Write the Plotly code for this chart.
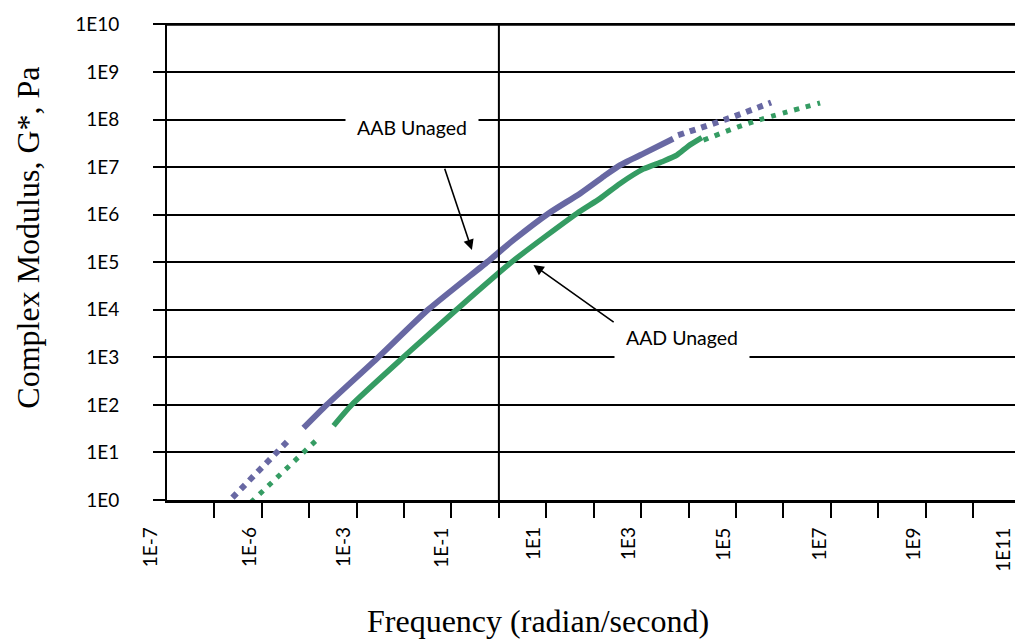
import plotly.graph_objects as go

# ---- data (frequency in rad/s, complex modulus G* in Pa) ----
aab_low_freq = [2.4e-6, 3.6e-5]
aab_low_g = [1.12, 17.7]
aab_freq = [7.59e-5, 2.36e-4, 2.89e-3, 0.0328, 0.581, 2.03, 11.1, 51.8, 166, 361, 1318, 4732]
aab_g = [32.7, 101, 1012, 1.02e4, 1.03e5, 2.93e5, 1.06e6, 2.80e6, 6.46e6, 1.10e7, 2.09e7, 3.95e7]
aab_high_freq = [6026, 6.11e4, 5.51e5]
aab_high_g = [4.69e7, 1.01e8, 2.28e8]

aad_low_freq = [5.85e-6, 1.45e-4]
aad_low_g = [0.89, 18.5]
aad_freq = [3.26e-4, 7.94e-4, 9.73e-3, 0.130, 1.91, 44.1, 137, 361, 1102, 2773, 5662, 9795, 1.91e4]
aad_g = [36.6, 101, 1012, 1.02e4, 1.03e5, 1.06e6, 2.20e6, 4.54e6, 9.06e6, 1.30e7, 1.78e7, 2.75e7, 4.15e7]
aad_high_freq = [2.06e4, 1.11e5, 3.39e5, 5.94e6]
aad_high_g = [3.68e7, 7.00e7, 1.01e8, 2.23e8]

y_tickvals = [10 ** i for i in range(0, 11)]
y_ticktext = ["1E%d" % i for i in range(0, 11)]
x_tickvals = [10 ** i for i in range(-6, 12)]
x_label_pos = [-7, -5, -3, -1, 1, 3, 5, 7, 9, 11]
x_label_text = ["1E-7", "1E-6", "1E-3", "1E-1", "1E1", "1E3", "1E5", "1E7", "1E9", "1E11"]
x_label_shift = [-18, -14, -14, -11, -14, -13, -13, -12, -13, -18]

PURPLE = "#6868A3"
GREEN = "#359C63"
SANS = "Lato"
SERIF = "Liberation Serif"

fig = go.Figure()
fig.add_trace(go.Scatter(x=aab_low_freq, y=aab_low_g, mode="lines",
                         line=dict(color=PURPLE, width=6, dash="dot")))
fig.add_trace(go.Scatter(x=aab_freq, y=aab_g, mode="lines",
                         line=dict(color=PURPLE, width=6, shape="spline", smoothing=0.6)))
fig.add_trace(go.Scatter(x=aab_high_freq, y=aab_high_g, mode="lines",
                         line=dict(color=PURPLE, width=6, dash="dot", shape="spline")))
fig.add_trace(go.Scatter(x=aad_low_freq, y=aad_low_g, mode="lines",
                         line=dict(color=GREEN, width=5, dash="5px,7px")))
fig.add_trace(go.Scatter(x=aad_freq, y=aad_g, mode="lines",
                         line=dict(color=GREEN, width=5.5, shape="spline", smoothing=0.6)))
fig.add_trace(go.Scatter(x=aad_high_freq, y=aad_high_g, mode="lines",
                         line=dict(color=GREEN, width=5, dash="5px,7px", shape="spline")))

XR = [-7, 10.885]
YR = [0, 10.03]


def xpaper(logval):
    return (logval - XR[0]) / (XR[1] - XR[0])


def ypaper(logval):
    return (logval - YR[0]) / (YR[1] - YR[0])


annotations = []
for pos, txt, sh in zip(x_label_pos, x_label_text, x_label_shift):
    annotations.append(dict(x=xpaper(pos), y=-0.053, xref="paper", yref="paper", text=txt,
                            textangle=-90, showarrow=False, xanchor="center", yanchor="top",
                            xshift=sh, font=dict(family=SANS, size=19, color="black")))

annotations += [
    dict(x=0.4375, y=-0.254, xref="paper", yref="paper", text="Frequency (radian/second)",
         showarrow=False, xanchor="center", yanchor="middle",
         font=dict(family=SERIF, size=32, color="black")),
    dict(x=-0.1639, y=0.55, xref="paper", yref="paper", text="Complex Modulus, G*, Pa",
         textangle=-90, showarrow=False, xanchor="center", yanchor="middle",
         font=dict(family=SERIF, size=32, color="black")),
    # labels with white boxes
    dict(x=-1.84, y=7.838, xref="x", yref="y", text="AAB Unaged", showarrow=False,
         bgcolor="white", width=132, height=40, borderpad=0,
         font=dict(family=SANS, size=19.5, color="black")),
    dict(x=3.865, y=3.431, xref="x", yref="y", text="AAD Unaged", showarrow=False,
         bgcolor="white", width=134, height=46, borderpad=0,
         font=dict(family=SANS, size=19.5, color="black")),
    # arrows
    dict(x=-0.569, y=5.257, xref="x", yref="y", text="", showarrow=True,
         ax=-27.7, ay=-82.7, arrowhead=2, arrowsize=1.3, arrowwidth=1.6, arrowcolor="black"),
    dict(x=0.729, y=4.942, xref="x", yref="y", text="", showarrow=True,
         ax=81.7, ay=58.3, arrowhead=2, arrowsize=1.3, arrowwidth=1.6, arrowcolor="black"),
]

top_y = ypaper(10)

fig.update_layout(
    width=1015, height=642,
    margin=dict(l=167, r=0, t=22.57, b=141.5),
    paper_bgcolor="white", plot_bgcolor="white",
    showlegend=False, hovermode=False,
    xaxis=dict(type="log", range=XR, tickvals=x_tickvals, showticklabels=False,
               ticks="outside", ticklen=15, tickwidth=2, tickcolor="black",
               showline=True, linewidth=3, linecolor="black", showgrid=False, zeroline=False),
    xaxis2=dict(type="log", range=XR, overlaying="x", anchor="y", side="bottom",
                tickvals=x_tickvals, showticklabels=False, ticks="inside", ticklen=10,
                tickwidth=2, tickcolor="black", showline=False, showgrid=False, zeroline=False),
    yaxis=dict(type="log", range=YR, tickvals=y_tickvals, ticktext=y_ticktext,
               ticks="outside", ticklen=12, tickwidth=2, tickcolor="black",
               ticklabelstandoff=30,
               tickfont=dict(family=SANS, size=19, color="black"),
               showline=True, linewidth=2, linecolor="black",
               showgrid=True, gridwidth=2, gridcolor="black", zeroline=False),
    annotations=annotations,
    shapes=[
        dict(type="line", xref="paper", yref="paper", x0=xpaper(0), x1=xpaper(0),
             y0=0, y1=top_y, line=dict(color="black", width=2)),
        # top gridline at 1E10
        dict(type="line", xref="paper", yref="paper", x0=0, x1=1, y0=top_y, y1=top_y,
             line=dict(color="black", width=2.5)),
    ],
)

fig.write_html("out.html")
